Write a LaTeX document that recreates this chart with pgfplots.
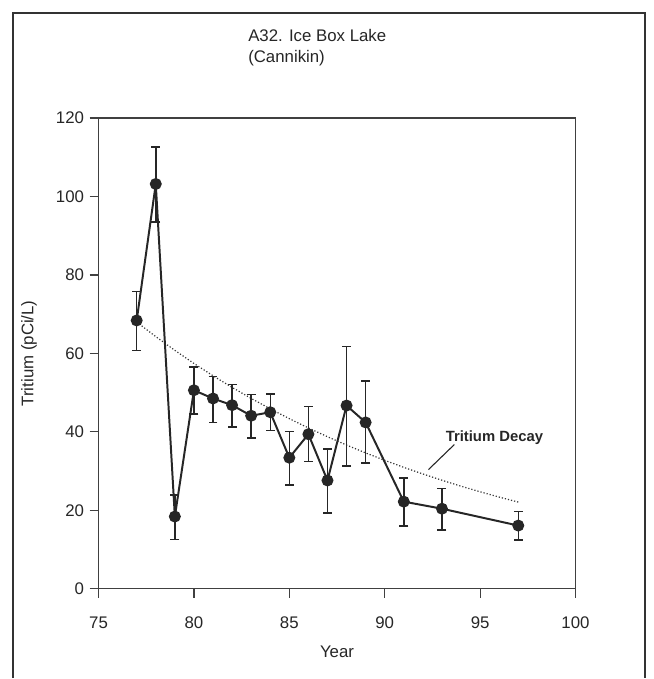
\documentclass[border=0pt]{standalone}
\usepackage{fontspec}
\setmainfont{Liberation Sans}
\usepackage{pgfplots}
\pgfplotsset{compat=1.18}
\usepackage{pgfplotstable}

% year, tritium, error up, error down
\pgfplotstableread{
x    y     ep    em
77   68.4  7.4   7.7
78   103.2 9.4   9.7
79   18.4  5.5   5.8
80   50.6  5.9   6.1
81   48.5  5.6   6.1
82   46.8  5.3   5.6
83   44.1  5.4   5.7
84   45.0  4.7   4.7
85   33.4  6.7   7.0
86   39.4  7.0   7.0
87   27.6  8.0   8.3
88   46.7  15.1  15.4
89   42.4  10.5  10.3
91   22.2  6.0   6.2
93   20.4  5.1   5.4
97   16.1  3.6   3.7
}\tritium

% decay of the 1977 value
\pgfplotstableread{
x   y
77  68.00
78  64.28
79  60.77
80  57.44
81  54.30
82  51.33
83  48.52
84  45.87
85  43.36
86  40.99
87  38.75
88  36.63
89  34.62
90  32.73
91  30.94
92  29.25
93  27.65
94  26.14
95  24.71
96  23.36
97  22.08
}\decay

\begin{document}
\fontsize{16.5}{20}\selectfont
\begin{tikzpicture}
\begin{axis}[
    name=ax,
    at={(0,0)}, anchor=south west,
    scale only axis,
    width=480.7bp, height=474.3bp,
    xmin=75, xmax=100, ymin=0, ymax=120,
    xtick={75,80,...,100},
    ytick={0,20,...,120},
    axis line style={line width=1.2pt, black!75},
    tick style={line width=1.2pt, black!75},
    tick align=outside,
    major tick length=9bp,
    xtick pos=bottom, ytick pos=left,
    /pgf/number format/assume math mode=true,
    ticklabel style={font=\fontsize{17}{20}\selectfont, text=black!85},
    xticklabel style={yshift=-14bp},
    xlabel={Year},
    ylabel={Tritium (pCi/L)},
    label style={font=\fontsize{17}{20}\selectfont, text=black!85},
    xlabel style={yshift=-6bp},
    ylabel style={yshift=8bp},
    clip=false,
]
\addplot[black!80, dotted, line width=1.2pt] table[x=x, y=y] {\decay};
\addplot[black!85, line width=2pt, mark=*, mark size=5bp,
    error bars/.cd, y dir=both, y explicit,
    error bar style={line width=1.5pt, black!85},
    error mark options={rotate=90, mark size=4.5bp, line width=1.5pt, black!85}]
    table[x=x, y=y, y error plus=ep, y error minus=em] {\tritium};
\draw[black!85, line width=1.1pt] (axis cs:93.65,36.76) -- (axis cs:92.29,30.36);
\node[font=\bfseries\fontsize{15}{17}\selectfont, text=black!85] at (axis cs:95.75,38.6) {Tritium Decay};
\end{axis}
% page box and outer frame, measured from the axis corner
\path ([xshift=-99.3bp, yshift=-85.7bp]ax.south west) rectangle ([xshift=559.7bp, yshift=593.3bp]ax.south west);
\draw[line width=2pt, black!80]
    ([xshift=-86.3bp, yshift=-90bp]ax.south west) -- ([xshift=-86.3bp, yshift=580.3bp]ax.south west)
    -- ([xshift=550.7bp, yshift=580.3bp]ax.south west) -- ([xshift=550.7bp, yshift=-90bp]ax.south west);
\node[anchor=base west, align=left, font=\fontsize{17}{21}\selectfont, text=black!85, inner sep=0pt]
    at ([xshift=150.7bp, yshift=551.3bp]ax.south west) {A32. Ice Box Lake};
\node[anchor=base west, align=left, font=\fontsize{17}{21}\selectfont, text=black!85, inner sep=0pt]
    at ([xshift=150.7bp, yshift=530.3bp]ax.south west) {(Cannikin)};
\end{tikzpicture}
\end{document}
